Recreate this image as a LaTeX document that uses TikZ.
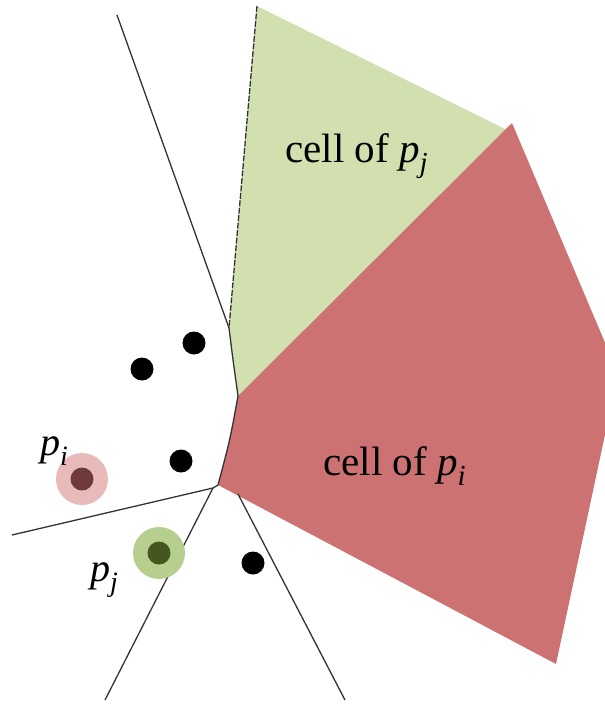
\documentclass[tikz,border=0pt]{standalone}
\usepackage{fontspec}
\setmainfont{Liberation Serif}
\definecolor{cellgreen}{HTML}{D2E0B0}
\definecolor{cellred}{HTML}{CD7272}
\definecolor{pinkhalo}{HTML}{E9BABA}
\definecolor{pinkcore}{HTML}{6E3A3A}
\definecolor{greenhalo}{HTML}{B6CE8E}
\definecolor{greencore}{HTML}{46561F}
\definecolor{edgegray}{HTML}{333333}
\tikzset{
  site/.style={circle,fill=black,inner sep=0pt,minimum size=23pt},
  halo/.style={circle,inner sep=0pt,minimum size=52pt},
  vedge/.style={draw=edgegray,line width=1.3pt,line join=round},
  celllabel/.style={anchor=base west,inner sep=0pt,font=\fontsize{41}{48}\selectfont},
  sitelabel/.style={anchor=base west,inner sep=0pt,font=\fontsize{40}{48}\selectfont},
}
\begin{document}
\begin{tikzpicture}[x=1pt,y=-1pt]
\useasboundingbox (0,0) rectangle (605,705);
% vertices
\coordinate (gtop) at (257,6);
\coordinate (gright) at (503,128);
\coordinate (gbot) at (238,396);
\coordinate (rtop) at (512,123);
\coordinate (rr1) at (606,345);
\coordinate (rr2) at (606,430);
\coordinate (rbot) at (556,664);
\coordinate (rleft) at (218,485);
\coordinate (vmid) at (229,328);
\coordinate (vc) at (213,488);
% cells
\fill[cellgreen] (gtop) -- (gright) -- (515,134) -- (250,404) -- (gbot) .. controls (233,360) .. (vmid) -- cycle;
\fill[cellred] (gbot) -- (rtop) -- (rr1) -- (rr2) -- (rbot) -- (rleft) .. controls (230,440) .. (gbot) -- cycle;
% voronoi edges
\coordinate (ltop) at (117,15);
\coordinate (lleft) at (12,535);
\coordinate (lbl) at (105,700);
\coordinate (lbr) at (345,700);
\coordinate (lbrs) at (238,494);
\draw[vedge] (ltop) -- (vmid) .. controls (233,360) .. (gbot) .. controls (230,440) .. (rleft) -- (vc);
\draw[vedge,dashed,dash pattern=on 6pt off 1.5pt] (gtop) -- (vmid);
\draw[vedge] (lleft) -- (vc);
\draw[vedge] (vc) -- (lbl);
\draw[vedge] (lbrs) -- (lbr);
% sites
\node[site] (s1) at (194,343) {};
\node[site] (s2) at (142,369) {};
\node[site] (s3) at (181,461) {};
\node[site] (s4) at (253,563) {};
\node[halo,fill=pinkhalo] (hi) at (82,479) {};
\node[site,fill=pinkcore] (pi) at (82,479) {};
\node[halo,fill=greenhalo] (hj) at (159,553) {};
\node[site,fill=greencore] (pj) at (159,553) {};
% labels
\node[sitelabel] (lpi) at (40,455) {\textit{p}\raisebox{-0.25em}{\fontsize{28}{30}\selectfont\textit{i}}};
\node[sitelabel] (lpj) at (90,581) {\textit{p}\raisebox{-0.25em}{\fontsize{28}{30}\selectfont\textit{j}}};
\node[celllabel] (cj) at (285,162) {cell of \textit{p}\raisebox{-0.25em}{\fontsize{29}{30}\selectfont\textit{j}}};
\node[celllabel] (ci) at (323,475) {cell of \textit{p}\raisebox{-0.25em}{\fontsize{29}{30}\selectfont\textit{i}}};
\end{tikzpicture}
\end{document}
